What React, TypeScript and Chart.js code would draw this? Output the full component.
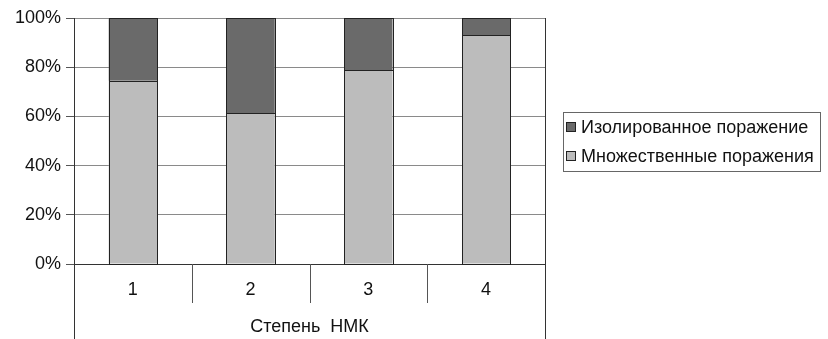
import React, { useEffect, useRef } from "react";
import { Chart, registerables } from "chart.js";

Chart.register(...registerables);

const categories = ["1", "2", "3", "4"];
const multipleLesions = [74.5, 61.3, 78.9, 93.1];
const isolatedLesion = [25.5, 38.7, 21.1, 6.9];
const yTickLabels = ["0%", "20%", "40%", "60%", "80%", "100%"];
const axisTitle = "Степень  НМК";
const seriesNames = ["Множественные поражения", "Изолированное поражение"];

const FONT = "'Liberation Sans', Arial, sans-serif";
const FS = 18;

const outlinePlugin = {
  id: "outline",
  afterDatasetsDraw(chart: any) {
    const ctx = chart.ctx;
    ctx.save();
    ctx.strokeStyle = "#222";
    ctx.lineWidth = 1;
    chart.data.datasets.forEach((_d: any, i: number) => {
      const meta = chart.getDatasetMeta(i);
      meta.data.forEach((bar: any) => {
        const p = bar.getProps(["x", "y", "base", "width"], true);
        const l = Math.round(p.x - p.width / 2) + 0.5;
        const r = Math.round(p.x + p.width / 2) + 0.5;
        const t = Math.round(Math.min(p.y, p.base)) + 0.5;
        const b = Math.round(Math.max(p.y, p.base)) + 0.5;
        ctx.strokeRect(l, t, r - l, b - t);
      });
    });
    ctx.restore();
  },
};

const decorPlugin = {
  id: "decor",
  afterDraw(chart: any) {
    const ctx = chart.ctx;
    const area = chart.chartArea;
    const xs = chart.scales.x;
    ctx.save();
    ctx.strokeStyle = "#333";
    ctx.lineWidth = 1;
    const bottom = chart.height;
    ctx.beginPath();
    ctx.moveTo(Math.round(area.left) + 0.5, area.top);
    ctx.lineTo(Math.round(area.left) + 0.5, bottom);
    ctx.moveTo(Math.round(area.right) + 0.5, area.top);
    ctx.lineTo(Math.round(area.right) + 0.5, bottom);
    ctx.stroke();
    ctx.strokeStyle = "#555";
    ctx.beginPath();
    for (let i = 1; i < categories.length; i++) {
      const x = (xs.getPixelForValue(i - 1) + xs.getPixelForValue(i)) / 2;
      ctx.moveTo(Math.round(x) + 0.5, area.bottom);
      ctx.lineTo(Math.round(x) + 0.5, area.bottom + 39);
    }
    ctx.stroke();
    const lx = 563, ly = 112, lw = 257, lh = 59;
    ctx.strokeStyle = "#666";
    ctx.strokeRect(lx + 0.5, ly + 0.5, lw, lh);
    const ds = chart.data.datasets.slice().reverse();
    ctx.font = `${FS}px ${FONT}`;
    ctx.textBaseline = "middle";
    ds.forEach((d: any, i: number) => {
      const cy = ly + 15 + i * 29;
      ctx.fillStyle = d.backgroundColor;
      ctx.fillRect(566, cy - 5, 10, 10);
      ctx.strokeStyle = "#222";
      ctx.strokeRect(566.5, cy - 4.5, 9, 9);
      ctx.fillStyle = "#111";
      ctx.fillText(d.label, 581, cy + 1);
    });
    ctx.restore();
  },
};

export default function App() {
  const ref = useRef<HTMLCanvasElement>(null);
  useEffect(() => {
    const chart = new Chart(ref.current!, {
      type: "bar",
      data: {
        labels: categories,
        datasets: [
          {
            label: seriesNames[0],
            data: multipleLesions,
            backgroundColor: "#bcbcbc",
            borderWidth: 0,
            barPercentage: 0.82,
            categoryPercentage: 0.5,
          },
          {
            label: seriesNames[1],
            data: isolatedLesion,
            backgroundColor: "#6a6a6a",
            borderWidth: 0,
            barPercentage: 0.82,
            categoryPercentage: 0.5,
          },
        ],
      },
      options: {
        animation: false,
        responsive: false,
        maintainAspectRatio: false,
        layout: { padding: { left: 0, top: 18, right: 283, bottom: 0 } },
        plugins: { legend: { display: false }, tooltip: { enabled: false } },
        scales: {
          x: {
            stacked: true,
            grid: { display: false, drawTicks: false },
            border: { display: true, color: "#333", width: 1 },
            ticks: { font: { family: FONT, size: FS }, color: "#111", padding: 15 },
            title: {
              display: true,
              text: axisTitle,
              font: { family: FONT, size: FS },
              color: "#111",
              padding: { top: 0, bottom: 1 },
            },
            afterFit(scale: any) {
              scale.height = 75;
            },
          },
          y: {
            stacked: true,
            min: 0,
            max: 100,
            ticks: {
              stepSize: 20,
              font: { family: FONT, size: FS },
              color: "#111",
              padding: 5,
              callback: (v: any) => yTickLabels[Math.round(Number(v) / 20)],
            },
            grid: { color: "#8a8a8a", tickLength: 8, tickColor: "#555" },
            border: { display: true, color: "#333" },
            afterFit(scale: any) {
              scale.width = 74;
            },
          },
        },
      },
      plugins: [outlinePlugin, decorPlugin],
    });
    return () => chart.destroy();
  }, []);
  return (
    <div style={{ position: "fixed", left: 0, top: 0, width: 828, height: 339, background: "#fff" }}>
      <canvas ref={ref} width={828} height={339} style={{ width: 828, height: 339 }} />
    </div>
  );
}
